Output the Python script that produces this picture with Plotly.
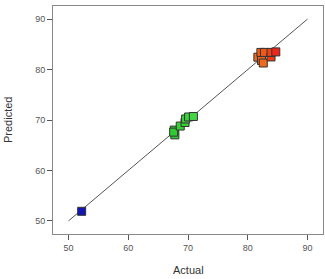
import plotly.graph_objects as go

actual = [52.2, 67.7, 67.8, 67.6, 68.7, 69.5, 69.6, 70.1, 70.9,
          81.7, 82.3, 82.6, 82.2, 82.8, 83.9, 83.9, 84.7]
predicted = [51.9, 68.0, 67.05, 67.6, 68.8, 69.5, 70.2, 70.6, 70.7,
             82.45, 81.8, 81.3, 83.4, 83.4, 82.5, 83.4, 83.5]
colors = ["#1414B4", "#2ECC2E", "#2ECC2E", "#2ECC2E", "#36D036", "#36D036", "#3CD23C", "#3CD23C", "#44D444",
          "#EE6A1E", "#EE6420", "#EE6A1E", "#F06018", "#F05A18", "#F03A12", "#F0401A", "#F0261A"]
line_x = [50, 90]
line_y = [50, 90]
ticks = [50, 60, 70, 80, 90]

fig = go.Figure()
fig.add_trace(go.Scatter(x=line_x, y=line_y, mode="lines",
                         line=dict(color="#555555", width=1), hoverinfo="skip"))
fig.add_trace(go.Scatter(x=actual, y=predicted, mode="markers",
                         marker=dict(symbol="square", size=8, color=colors,
                                     line=dict(color="#333333", width=1))))

axis_common = dict(range=[47.4, 92.6], tickvals=ticks, ticks="outside", ticklen=5,
                   tickcolor="#555555", tickwidth=1, showgrid=False, zeroline=False,
                   showline=True, linecolor="#888888", linewidth=1, mirror=True,
                   tickfont=dict(family="Liberation Sans", size=9, color="#555555"))
fig.update_xaxes(**axis_common)
fig.update_yaxes(**axis_common)

fig.update_layout(
    width=325, height=279, showlegend=False,
    margin=dict(l=53, r=2, t=6, b=45),
    plot_bgcolor="white", paper_bgcolor="white",
    annotations=[
        dict(text="Predicted", x=0, y=0.5, xref="paper", yref="paper", textangle=-90,
             showarrow=False, xanchor="center", yanchor="middle", xshift=-45,
             font=dict(family="Liberation Sans", size=11, color="#333333")),
        dict(text="Actual", x=0.5, y=0, xref="paper", yref="paper",
             showarrow=False, xanchor="center", yanchor="middle", yshift=-36,
             font=dict(family="Liberation Sans", size=11, color="#333333")),
    ],
)
fig.write_html("out.html")
